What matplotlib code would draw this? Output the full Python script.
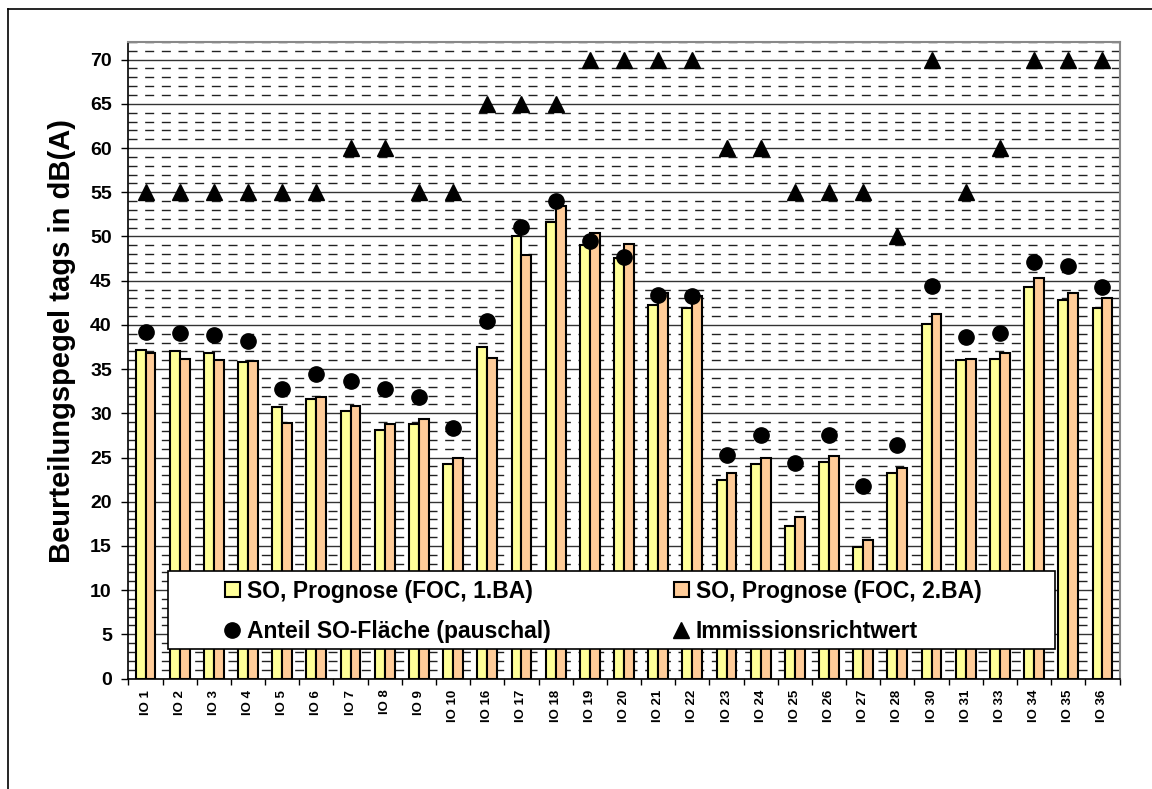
import matplotlib.pyplot as plt
from matplotlib.lines import Line2D
from matplotlib.patches import Rectangle
from matplotlib.ticker import MultipleLocator, FixedLocator
import numpy as np

plt.rcParams['font.family'] = ['Liberation Sans', 'DejaVu Sans']
plt.rcParams['font.weight'] = 'bold'

# Immissionsorte
orte = ['IO 1', 'IO 2', 'IO 3', 'IO 4', 'IO 5', 'IO 6', 'IO 7', 'IO 8', 'IO 9', 'IO 10',
        'IO 16', 'IO 17', 'IO 18', 'IO 19', 'IO 20', 'IO 21', 'IO 22', 'IO 23', 'IO 24',
        'IO 25', 'IO 26', 'IO 27', 'IO 28', 'IO 30', 'IO 31', 'IO 33', 'IO 34', 'IO 35', 'IO 36']

# Beurteilungspegel tags in dB(A)
prognose_1ba = [37.2, 37.0, 36.8, 35.8, 30.7, 31.65, 30.3, 28.1, 28.75, 24.3,
                37.45, 50.0, 51.6, 49.0, 47.6, 42.3, 41.9, 22.5, 24.3,
                17.3, 24.45, 14.9, 23.3, 40.05, 36.05, 36.15, 44.25, 42.8, 41.9]
prognose_2ba = [36.8, 36.1, 36.05, 35.9, 28.9, 31.9, 30.85, 28.8, 29.3, 25.0,
                36.2, 47.95, 53.4, 50.4, 49.2, 43.65, 43.25, 23.3, 25.0,
                18.3, 25.2, 15.7, 23.8, 41.25, 36.1, 36.8, 45.25, 43.65, 43.05]
anteil_so = [39.2, 39.1, 38.9, 38.2, 32.7, 34.4, 33.7, 32.8, 31.9, 28.3,
             40.4, 51.1, 54.0, 49.45, 47.65, 43.4, 43.3, 25.3, 27.5,
             24.4, 27.5, 21.75, 26.45, 44.45, 38.6, 39.05, 47.1, 46.7, 44.25]
richtwert = [55, 55, 55, 55, 55, 55, 60, 60, 55, 55,
             65, 65, 65, 70, 70, 70, 70, 60, 60,
             55, 55, 55, 50, 70, 55, 60, 70, 70, 70]

gelb = '#FFFF99'
orange = '#FFCC99'

fig = plt.figure(figsize=(11.52, 7.89), dpi=100, facecolor='white')
ax = fig.add_axes([0.1115, 0.140, 0.9718 - 0.1115, 0.9468 - 0.140])

x = np.arange(len(orte))
w = 0.29
ax.bar(x - w / 2, prognose_1ba, w, color=gelb, edgecolor='black', linewidth=1.5, zorder=3)
ax.bar(x + w / 2, prognose_2ba, w, color=orange, edgecolor='black', linewidth=1.5, zorder=3)
ax.plot(x, anteil_so, 'o', color='black', markersize=11, linestyle='none', zorder=4)
ax.plot(x, richtwert, '^', color='black', markersize=11.5, linestyle='none', zorder=4)

ax.set_xlim(-0.5, len(orte) - 0.5)
ax.set_ylim(0, 72)

# Gitter: durchgezogen alle 5 dB, gestrichelt jedes dB
ax.yaxis.set_major_locator(FixedLocator(np.arange(0, 71, 5)))
ax.yaxis.set_minor_locator(MultipleLocator(1))
ax.grid(axis='y', which='major', color='#333333', linewidth=1.0, zorder=1)
ax.grid(axis='y', which='minor', color='#222222', linewidth=1.0,
        linestyle=(0, (6.5, 5.5)), zorder=1)
ax.set_axisbelow(True)

ax.set_xticks(x)
ax.set_xticklabels(orte, rotation=90, fontsize=9.5, fontweight='bold')
ax.xaxis.set_minor_locator(FixedLocator(np.arange(-0.5, len(orte), 1)))
ax.tick_params(axis='x', which='major', length=0, pad=8)
ax.tick_params(axis='x', which='minor', length=4, width=1, direction='out')
ax.tick_params(axis='y', which='major', length=5, width=1, direction='out',
               labelsize=14, pad=7)
ax.tick_params(axis='y', which='minor', length=0)
for lab in ax.get_yticklabels():
    lab.set_fontweight('bold')

ax.set_ylabel('Beurteilungspegel tags in dB(A)', fontsize=21, fontweight='bold')
ax.yaxis.set_label_coords(-0.053, 0.53)

for side in ['left', 'bottom']:
    ax.spines[side].set_color('black')
    ax.spines[side].set_linewidth(1.2)
for side in ['top', 'right']:
    ax.spines[side].set_color('#888888')
    ax.spines[side].set_linewidth(1.5)

# Legendenkasten
box = Rectangle((0.0399, 0.0459), 0.935 - 0.0399, 0.1694 - 0.0459, transform=ax.transAxes,
                facecolor='white', edgecolor='black', linewidth=1.2, zorder=5)
ax.add_patch(box)

handles = [
    Rectangle((0, 0), 1, 1, facecolor=gelb, edgecolor='black', linewidth=1.5),
    Line2D([], [], marker='o', color='black', linestyle='none', markersize=11),
    Rectangle((0, 0), 1, 1, facecolor=orange, edgecolor='black', linewidth=1.5),
    Line2D([], [], marker='^', color='black', linestyle='none', markersize=11.5),
]
labels = ['SO, Prognose (FOC, 1.BA)', 'Anteil SO-Fläche (pauschal)',
          'SO, Prognose (FOC, 2.BA)', 'Immissionsrichtwert']
leg = ax.legend(handles, labels, ncol=2, loc='center', bbox_to_anchor=(0.479, 0.1054),
                prop={'size': 16.5, 'weight': 'bold'}, frameon=False,
                handlelength=0.65, handleheight=0.65, handletextpad=0.3,
                columnspacing=5.4, labelspacing=0.75, borderpad=0, borderaxespad=0)
leg.set_zorder(6)

# Rahmen um das Diagramm (links und oben)
fig.add_artist(Line2D([8 / 1152, 8 / 1152], [0, 1 - 9 / 789], color='black', linewidth=1.2,
                      transform=fig.transFigure))
fig.add_artist(Line2D([8 / 1152, 1], [1 - 9 / 789, 1 - 9 / 789], color='black', linewidth=1.2,
                      transform=fig.transFigure))

fig.savefig('out.png', dpi=100)
